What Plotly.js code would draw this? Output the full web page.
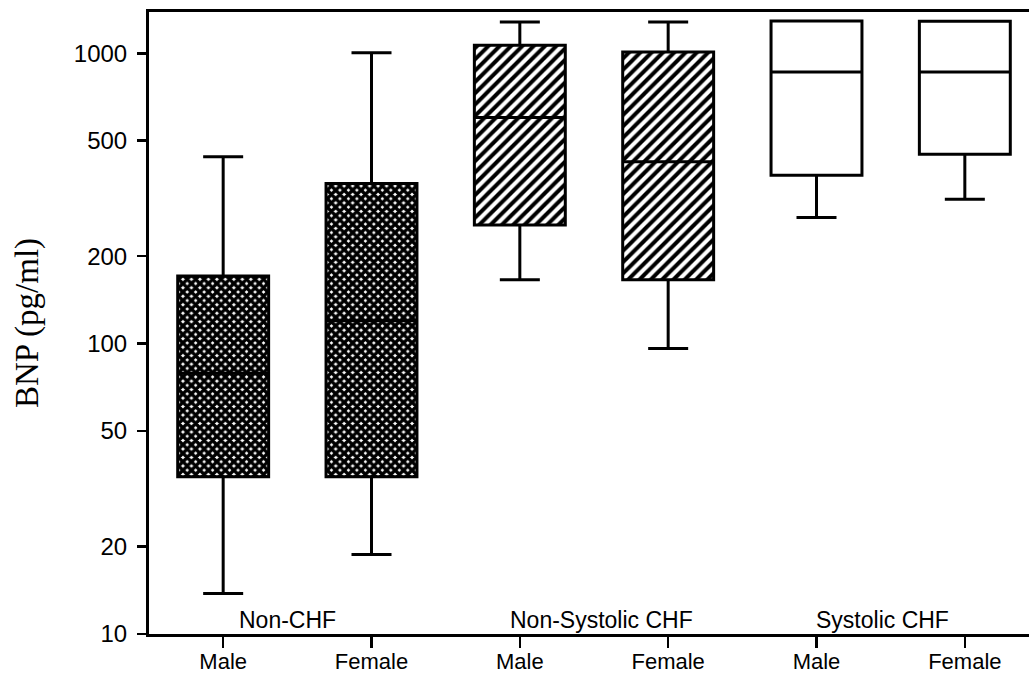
<!DOCTYPE html>
<html>
<head>
<meta charset="utf-8">
<script src="https://cdn.plot.ly/plotly-3.0.1.min.js"></script>
<style>
html,body{margin:0;padding:0;overflow:hidden;background:#fff;}
#chart{width:1045px;height:677px;}
</style>
</head>
<body>
<div id="chart"></div>
<script>
// Data
const positions = [0, 1, 2, 3, 4, 5];
const tickLabels = ["Male", "Female", "Male", "Female", "Male", "Female"];
const groupNames = ["Non-CHF", "Non-Systolic CHF", "Systolic CHF"];
const lowerWhisker = [13.8, 18.8, 166, 96.3, 272, 314];
const q1Values = [34.8, 34.8, 256, 166, 380, 449];
const medianValues = [79, 120, 601, 423, 862, 862];
const q3Values = [171, 356, 1065, 1011, 1292, 1288];
const upperWhisker = [440, 1004, 1282, 1282, 1292, 1288];
const yTicks = [10, 20, 50, 100, 200, 500, 1000];

const BOXW = 0.613;

function barTrace(idx, pattern) {
  return {
    type: 'bar',
    x: idx.map(i => positions[i]),
    base: idx.map(i => q1Values[i]),
    y: idx.map(i => q3Values[i] - q1Values[i]),
    width: BOXW,
    marker: {
      color: 'white',
      line: {width: 0},
      pattern: pattern
    },
    hoverinfo: 'skip',
    showlegend: false
  };
}

const traces = [
  barTrace([0, 1], {shape: 'x', fgcolor: 'black', bgcolor: 'white', size: 6, solidity: 0.82, fillmode: 'replace'}),
  barTrace([2, 3], {shape: '/', fgcolor: 'black', bgcolor: 'white', size: 8, solidity: 0.5, fillmode: 'replace'}),
  {
    type: 'box',
    x: positions,
    q1: q1Values,
    median: medianValues,
    q3: q3Values,
    lowerfence: lowerWhisker,
    upperfence: upperWhisker,
    width: BOXW,
    whiskerwidth: 0.44,
    fillcolor: 'rgba(0,0,0,0)',
    line: {color: 'black', width: 3},
    boxpoints: false,
    showlegend: false
  }
];

const font = 'Arial, "Liberation Sans", sans-serif';
const layout = {
  width: 1045,
  height: 677,
  margin: {l: 149, r: 6, t: 12, b: 43},
  paper_bgcolor: 'white',
  plot_bgcolor: 'white',
  barmode: 'overlay',
  showlegend: false,
  font: {family: font, size: 23, color: 'black'},
  xaxis: {
    range: [-0.5, 5.5],
    tickvals: positions,
    ticktext: tickLabels,
    ticks: 'outside',
    ticklen: 11,
    tickwidth: 2.5,
    tickcolor: 'black',
    showline: true,
    linewidth: 3,
    linecolor: 'black',
    mirror: true,
    showgrid: false,
    zeroline: false,
    ticklabelstandoff: -5,
    tickfont: {family: font, size: 22, color: 'black'}
  },
  yaxis: {
    type: 'log',
    range: [1, Math.log10(1387)],
    tickvals: yTicks,
    ticktext: yTicks.map(String),
    ticks: 'outside',
    ticklen: 9,
    tickwidth: 2.5,
    tickcolor: 'black',
    showline: true,
    linewidth: 3,
    linecolor: 'black',
    showgrid: false,
    zeroline: false,
    ticklabelstandoff: 5,
    tickfont: {family: font, size: 24, color: 'black'},
    title: {
      text: 'BNP (pg/ml)',
      font: {family: '"Times New Roman", "Liberation Serif", serif', size: 33, color: 'black'},
      standoff: 26
    }
  },
  annotations: [
    {x: 0.437, y: 0.0225, xref: 'x', yref: 'paper', text: groupNames[0], showarrow: false, xanchor: 'center', yanchor: 'middle', font: {family: font, size: 23, color: 'black'}},
    {x: 2.552, y: 0.0225, xref: 'x', yref: 'paper', text: groupNames[1], showarrow: false, xanchor: 'center', yanchor: 'middle', font: {family: font, size: 23, color: 'black'}},
    {x: 4.448, y: 0.0225, xref: 'x', yref: 'paper', text: groupNames[2], showarrow: false, xanchor: 'center', yanchor: 'middle', font: {family: font, size: 23, color: 'black'}}
  ]
};

Plotly.newPlot('chart', traces, layout, {displayModeBar: false, staticPlot: true});
</script>
</body>
</html>
